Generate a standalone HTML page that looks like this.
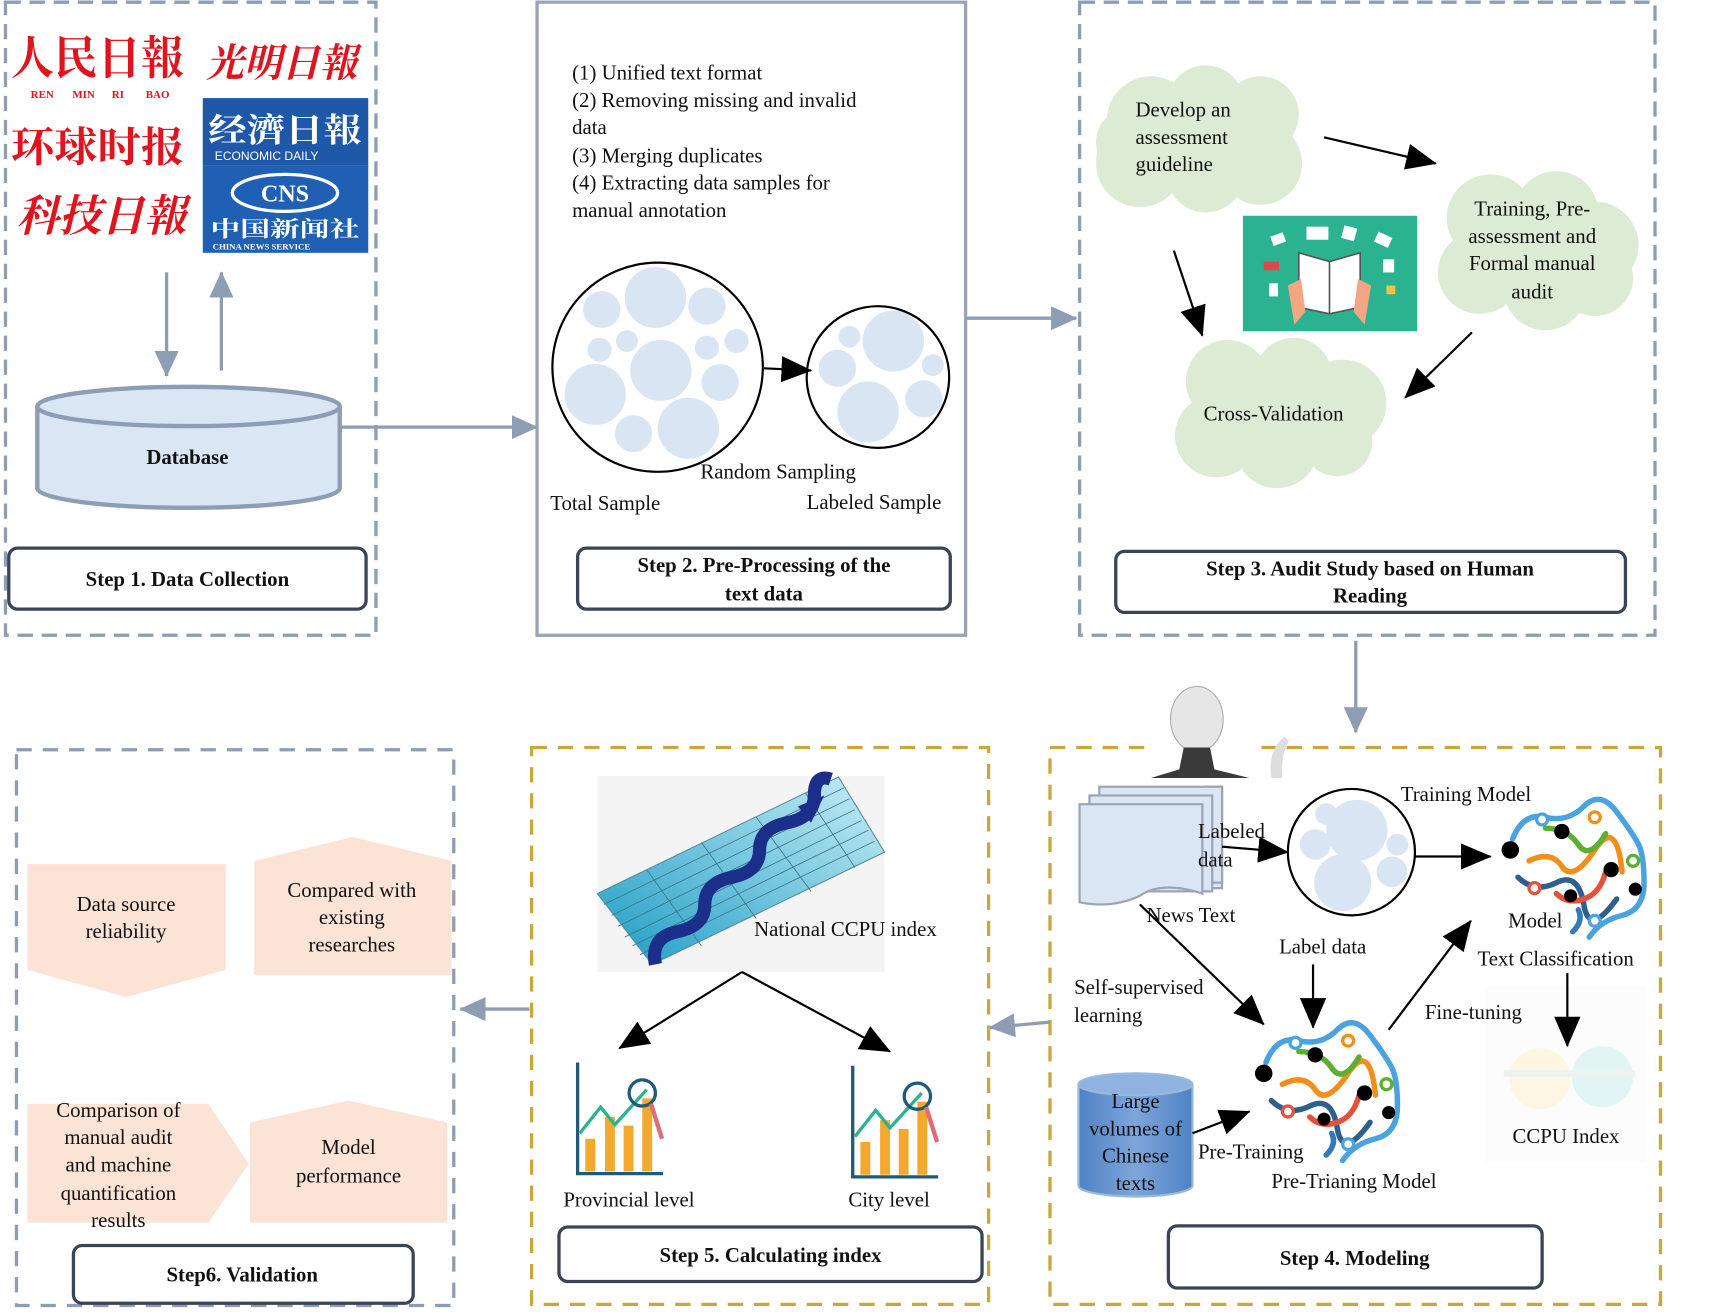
<!DOCTYPE html>
<html><head><meta charset="utf-8"><style>
html,body{margin:0;padding:0;background:#fff;}
svg{display:block;}
text{font-family:"Liberation Serif","Noto Serif CJK SC",serif;font-size:19px;fill:#111;}
.b{font-weight:bold;}
.cn{font-family:"Liberation Serif","Noto Serif CJK SC","Noto Sans CJK SC",serif;font-weight:bold;}
</style></head><body>
<svg width="1712" height="1312" viewBox="0 0 1562 1204" preserveAspectRatio="none" xmlns="http://www.w3.org/2000/svg">
<defs>
<marker id="abk" markerWidth="28" markerHeight="24" refX="27" refY="12" orient="auto" markerUnits="userSpaceOnUse"><path d="M0,0 L28,12 L0,24 z" fill="#000"/></marker>
<marker id="ag" markerWidth="24" markerHeight="22" refX="23" refY="11" orient="auto" markerUnits="userSpaceOnUse"><path d="M0,0 L24,11 L0,22 z" fill="#8d9db3"/></marker>
<linearGradient id="cyl" x1="0" x2="1"><stop offset="0" stop-color="#4f82c4"/><stop offset="0.5" stop-color="#7ea6da"/><stop offset="1" stop-color="#4f82c4"/></linearGradient>
<linearGradient id="grid" x1="0" y1="1" x2="1" y2="0"><stop offset="0" stop-color="#1d9cc4"/><stop offset="1" stop-color="#c8eef7"/></linearGradient>
</defs>

<!-- STEP 1 -->
<rect x="5" y="2" width="338" height="581" fill="none" stroke="#8d9db3" stroke-width="3" stroke-dasharray="14,8"/>
<text x="10" y="68" class="cn" style="font-size:42px;fill:#e0141e" textLength="158" lengthAdjust="spacingAndGlyphs">人民日報</text>
<text x="28" y="90" class="b" style="font-size:10px;fill:#e0141e">REN</text>
<text x="66" y="90" class="b" style="font-size:10px;fill:#e0141e">MIN</text>
<text x="102" y="90" class="b" style="font-size:10px;fill:#e0141e">RI</text>
<text x="133" y="90" class="b" style="font-size:10px;fill:#e0141e">BAO</text>
<text x="188" y="70" class="cn" style="font-size:36px;fill:#e0141e;font-style:italic" textLength="138" lengthAdjust="spacingAndGlyphs">光明日報</text>
<text x="10" y="148" class="cn" style="font-size:38px;fill:#e0141e" textLength="158" lengthAdjust="spacingAndGlyphs">环球时报</text>
<text x="15" y="212" class="cn" style="font-size:40px;fill:#e0141e;font-style:italic" textLength="155" lengthAdjust="spacingAndGlyphs">科技日報</text>
<rect x="185" y="90" width="151" height="62" fill="#1f58a8"/>
<text x="190" y="130" class="cn" style="font-size:30px;fill:#fff" textLength="140" lengthAdjust="spacingAndGlyphs">经濟日報</text>
<text x="196" y="147" style="font-family:'Liberation Sans',sans-serif;font-size:11px;fill:#fff">ECONOMIC DAILY</text>
<rect x="185" y="152" width="151" height="80" fill="#1f60b5"/>
<ellipse cx="260" cy="177" rx="48" ry="17" fill="none" stroke="#fff" stroke-width="3"/>
<text x="260" y="185" text-anchor="middle" class="b" style="font-size:22px;fill:#fff">CNS</text>
<text x="192" y="217" class="cn" style="font-size:20px;fill:#fff" textLength="136" lengthAdjust="spacingAndGlyphs">中国新闻社</text>
<text x="194" y="229" class="b" style="font-size:8px;fill:#fff">CHINA NEWS SERVICE</text>
<line x1="152" y1="250" x2="152" y2="345" stroke="#8d9db3" stroke-width="3" marker-end="url(#ag)"/>
<line x1="202" y1="340" x2="202" y2="250" stroke="#8d9db3" stroke-width="3" marker-end="url(#ag)"/>
<path d="M34,373 L34,448 A138,18 0 0 0 310,448 L310,373" fill="#dbe6f4" stroke="#8d9db3" stroke-width="4"/>
<ellipse cx="172" cy="373" rx="138" ry="18" fill="#dbe6f4" stroke="#8d9db3" stroke-width="4"/>
<text x="171" y="426" text-anchor="middle" class="b">Database</text>
<line x1="310" y1="392" x2="490" y2="392" stroke="#8d9db3" stroke-width="3" marker-end="url(#ag)"/>
<rect x="8" y="503" width="326" height="56" rx="8" fill="#fff" stroke="#3a4458" stroke-width="3"/>
<text x="171" y="538" text-anchor="middle" class="b">Step 1. Data Collection</text>

<!-- STEP 2 -->
<rect x="490" y="2" width="391" height="581" fill="none" stroke="#9aa4b4" stroke-width="3"/>
<text x="522" y="73">(1) Unified text format</text>
<text x="522" y="98">(2) Removing missing and invalid</text>
<text x="522" y="123">data</text>
<text x="522" y="149">(3) Merging duplicates</text>
<text x="522" y="174">(4) Extracting data samples for</text>
<text x="522" y="199">manual annotation</text>
<g fill="#dae5f3">
<circle cx="598" cy="273" r="28"/><circle cx="645" cy="281" r="17"/><circle cx="549" cy="284" r="17"/><circle cx="572" cy="313" r="10"/><circle cx="547" cy="321" r="11"/><circle cx="603" cy="340" r="28"/><circle cx="645" cy="319" r="11"/><circle cx="672" cy="313" r="11"/><circle cx="657" cy="351" r="17"/><circle cx="543" cy="362" r="28"/><circle cx="628" cy="393" r="28"/><circle cx="578" cy="398" r="17"/>
<circle cx="815" cy="313" r="28"/><circle cx="775" cy="309" r="10"/><circle cx="764" cy="338" r="17"/><circle cx="851" cy="335" r="10"/><circle cx="843" cy="366" r="17"/><circle cx="792" cy="378" r="28"/>
</g>
<circle cx="600" cy="337" r="96" fill="none" stroke="#000" stroke-width="2"/>
<circle cx="801" cy="346" r="65" fill="none" stroke="#000" stroke-width="2"/>
<line x1="697" y1="338" x2="740" y2="340" stroke="#000" stroke-width="2" marker-end="url(#abk)"/>
<text x="639" y="439">Random Sampling</text>
<text x="502" y="468">Total Sample</text>
<text x="736" y="467">Labeled Sample</text>
<rect x="527" y="503" width="340" height="56" rx="8" fill="#fff" stroke="#3a4458" stroke-width="3"/>
<text x="697" y="525" text-anchor="middle" class="b">Step 2. Pre-Processing of the</text>
<text x="697" y="551" text-anchor="middle" class="b">text data</text>
<line x1="881" y1="292" x2="982" y2="292" stroke="#8d9db3" stroke-width="3" marker-end="url(#ag)"/>

<!-- STEP 3 -->
<rect x="985" y="2" width="525" height="581" fill="none" stroke="#8d9db3" stroke-width="3" stroke-dasharray="14,8"/>
<g fill="#dcebd3">
<circle cx="1050" cy="110" r="40"/><circle cx="1100" cy="95" r="35"/><circle cx="1150" cy="105" r="35"/><circle cx="1040" cy="150" r="40"/><circle cx="1100" cy="160" r="35"/><circle cx="1150" cy="150" r="38"/><circle cx="1090" cy="125" r="50"/><circle cx="1030" cy="130" r="30"/>
<circle cx="1360" cy="200" r="40"/><circle cx="1420" cy="195" r="38"/><circle cx="1455" cy="225" r="40"/><circle cx="1350" cy="250" r="38"/><circle cx="1410" cy="265" r="38"/><circle cx="1455" cy="255" r="35"/><circle cx="1400" cy="230" r="55"/>
<circle cx="1120" cy="350" r="38"/><circle cx="1180" cy="345" r="35"/><circle cx="1225" cy="370" r="40"/><circle cx="1110" cy="400" r="38"/><circle cx="1165" cy="410" r="38"/><circle cx="1220" cy="405" r="32"/><circle cx="1165" cy="380" r="55"/>
</g>
<text x="1036" y="107">Develop an</text>
<text x="1036" y="132">assessment</text>
<text x="1036" y="157">guideline</text>
<text x="1398" y="198" text-anchor="middle">Training, Pre-</text>
<text x="1398" y="223" text-anchor="middle">assessment and</text>
<text x="1398" y="248" text-anchor="middle">Formal manual</text>
<text x="1398" y="274" text-anchor="middle">audit</text>
<text x="1162" y="386" text-anchor="middle">Cross-Validation</text>
<rect x="1134" y="198" width="159" height="106" fill="#2bb291"/>
<path d="M1185,232 L1213,240 L1241,232 L1241,282 L1213,288 L1185,282 z" fill="#fff" stroke="#555" stroke-width="1.5"/>
<line x1="1213" y1="240" x2="1213" y2="288" stroke="#555" stroke-width="1.5"/>
<path d="M1175,262 l12,-6 l4,30 l-10,12 z" fill="#f4a582"/><path d="M1251,262 l-12,-6 l-4,30 l10,12 z" fill="#f4a582"/>
<rect x="1160" y="215" width="12" height="9" fill="#fff" transform="rotate(-20 1166 219)"/><rect x="1192" y="208" width="20" height="12" fill="#fff"/><rect x="1225" y="208" width="12" height="12" fill="#fff" transform="rotate(15 1231 214)"/><rect x="1255" y="215" width="14" height="10" fill="#fff" transform="rotate(25 1262 220)"/><rect x="1153" y="240" width="14" height="8" fill="#d94b4b"/><rect x="1262" y="238" width="10" height="12" fill="#fff"/><rect x="1158" y="260" width="8" height="12" fill="#fff"/><rect x="1265" y="262" width="8" height="8" fill="#f5c242"/>
<line x1="1208" y1="126" x2="1310" y2="150" stroke="#000" stroke-width="2" marker-end="url(#abk)"/>
<line x1="1343" y1="305" x2="1282" y2="365" stroke="#000" stroke-width="2" marker-end="url(#abk)"/>
<line x1="1071" y1="230" x2="1097" y2="308" stroke="#000" stroke-width="2" marker-end="url(#abk)"/>
<rect x="1018" y="506" width="465" height="56" rx="8" fill="#fff" stroke="#3a4458" stroke-width="3"/>
<text x="1250" y="528" text-anchor="middle" class="b">Step 3. Audit Study based on Human</text>
<text x="1250" y="553" text-anchor="middle" class="b">Reading</text>
<line x1="1237" y1="588" x2="1237" y2="672" stroke="#8d9db3" stroke-width="3" marker-end="url(#ag)"/>

<!-- STEP 4 -->
<rect x="958" y="686" width="557" height="511" fill="none" stroke="#c9a73a" stroke-width="3" stroke-dasharray="14,10"/>
<rect x="1046" y="684" width="105" height="32" fill="#fff"/>
<ellipse cx="1092" cy="660" rx="24" ry="30" fill="#e6e6e6" stroke="#aaa"/>
<path d="M1080,686 L1104,686 L1108,706 L1140,714 L1050,714 L1076,706 z" fill="#3a3a3a"/>
<path d="M1160,714 q-4,-25 12,-38 l4,4 q-8,13 -6,34 z" fill="#ddd"/>
<rect x="1355" y="905" width="147" height="162" fill="#fcfcfc"/>
<ellipse cx="1405" cy="990" rx="28" ry="28" fill="#fcf6e2"/><ellipse cx="1462" cy="988" rx="28" ry="28" fill="#e2f5f5"/>
<rect x="1372" y="982" width="120" height="6" fill="#eaf3ee"/>
<path d="M1100,722 L1115,722 L1115,815 L1100,815 z" fill="#dbe6f4" stroke="#9aa4b4" stroke-width="2"/>
<rect x="1003" y="722" width="112" height="88" fill="#dbe6f4" stroke="#9aa4b4" stroke-width="2"/>
<rect x="994" y="730" width="112" height="88" fill="#dbe6f4" stroke="#9aa4b4" stroke-width="2"/>
<path d="M985,738 L1097,738 L1097,820 Q1060,808 1040,822 Q1015,834 985,828 z" fill="#dbe6f4" stroke="#9aa4b4" stroke-width="2"/>
<text x="1093" y="769">Labeled</text>
<text x="1093" y="795">data</text>
<line x1="1115" y1="777" x2="1175" y2="782" stroke="#000" stroke-width="2" marker-end="url(#abk)"/>
<g fill="#dae5f3"><circle cx="1238" cy="762" r="28"/><circle cx="1200" cy="775" r="14"/><circle cx="1210" cy="747" r="10"/><circle cx="1275" cy="775" r="10"/><circle cx="1270" cy="800" r="14"/><circle cx="1225" cy="810" r="26"/></g>
<ellipse cx="1233" cy="782" rx="58" ry="58" fill="none" stroke="#000" stroke-width="2"/>
<text x="1278" y="735">Training Model</text>
<line x1="1290" y1="786" x2="1360" y2="786" stroke="#000" stroke-width="2" marker-end="url(#abk)"/>
<g id="brain" fill="none" stroke-width="5" stroke-linecap="round">
<path d="M1380,770 q10,-25 30,-20 t35,-10 t30,5 t20,30 t5,35 t-20,30 t-30,20" stroke="#4aa3df"/>
<path d="M1395,790 q20,-10 30,5 t30,-15 t25,20" stroke="#f28e1c"/>
<path d="M1385,805 q15,15 35,5 t25,20 t30,-5" stroke="#2f5f8f"/>
<path d="M1410,760 q20,0 30,15 t25,-10" stroke="#5cb030"/>
<path d="M1420,820 q10,10 25,5 t20,-25" stroke="#e4513a"/>
<path d="M1440,835 q5,10 -5,20" stroke="#3479b8"/>
<circle cx="1378" cy="780" r="8" fill="#000" stroke="none"/><circle cx="1425" cy="763" r="7" fill="#000" stroke="none"/><circle cx="1470" cy="798" r="7" fill="#000" stroke="none"/><circle cx="1492" cy="816" r="6" fill="#000" stroke="none"/><circle cx="1433" cy="822" r="6" fill="#000" stroke="none"/>
<circle cx="1407" cy="752" r="5" fill="#fff" stroke="#4aa3df" stroke-width="3"/><circle cx="1490" cy="790" r="5" fill="#fff" stroke="#5cb030" stroke-width="3"/><circle cx="1455" cy="750" r="5" fill="#fff" stroke="#f28e1c" stroke-width="3"/><circle cx="1400" cy="815" r="5" fill="#fff" stroke="#e4513a" stroke-width="3"/><circle cx="1455" cy="845" r="5" fill="#fff" stroke="#4aa3df" stroke-width="3"/>
</g>
<text x="1376" y="851">Model</text>
<text x="1348" y="886">Text Classification</text>
<text x="1046" y="846">News Text</text>
<line x1="1040" y1="830" x2="1153" y2="940" stroke="#000" stroke-width="2" marker-end="url(#abk)"/>
<text x="1167" y="875">Label data</text>
<line x1="1198" y1="885" x2="1198" y2="943" stroke="#000" stroke-width="2" marker-end="url(#abk)"/>
<text x="980" y="912">Self-supervised</text>
<text x="980" y="938">learning</text>
<text x="1300" y="935">Fine-tuning</text>
<line x1="1267" y1="945" x2="1342" y2="845" stroke="#000" stroke-width="2" marker-end="url(#abk)"/>
<line x1="1430" y1="893" x2="1430" y2="960" stroke="#000" stroke-width="2" marker-end="url(#abk)"/>
<text x="1380" y="1049">CCPU Index</text>
<path d="M984,995 L984,1088 A52,10 0 0 0 1088,1088 L1088,995" fill="url(#cyl)" stroke="#9ab8dd" stroke-width="2"/>
<ellipse cx="1036" cy="995" rx="52" ry="10" fill="#8fb2e0" stroke="#9ab8dd" stroke-width="2"/>
<text x="1036" y="1017" text-anchor="middle">Large</text>
<text x="1036" y="1042" text-anchor="middle">volumes of</text>
<text x="1036" y="1067" text-anchor="middle">Chinese</text>
<text x="1036" y="1092" text-anchor="middle">texts</text>
<line x1="1088" y1="1040" x2="1140" y2="1020" stroke="#000" stroke-width="2" marker-end="url(#abk)"/>
<use href="#brain" transform="translate(-225,205)"/>
<text x="1093" y="1063">Pre-Training</text>
<text x="1160" y="1090">Pre-Trianing Model</text>
<rect x="1066" y="1125" width="341" height="57" rx="8" fill="#fff" stroke="#3a4458" stroke-width="3"/>
<text x="1236" y="1161" text-anchor="middle" class="b">Step 4. Modeling</text>
<line x1="958" y1="938" x2="903" y2="943" stroke="#8d9db3" stroke-width="3" marker-end="url(#ag)"/>

<!-- STEP 5 -->
<rect x="485" y="686" width="417" height="511" fill="none" stroke="#c9a73a" stroke-width="3" stroke-dasharray="14,10"/>
<rect x="545" y="712" width="262" height="180" fill="#f4f4f4"/>
<path d="M545,820 L765,713 L807,782 L595,885 z" fill="url(#grid)" stroke="#5a8a9a" stroke-width="1"/>
<g stroke="#3f7788" stroke-width="0.8">
<line x1="551" y1="830" x2="770" y2="723"/><line x1="558" y1="840" x2="775" y2="733"/><line x1="564" y1="850" x2="780" y2="743"/><line x1="570" y1="860" x2="786" y2="753"/><line x1="577" y1="868" x2="792" y2="762"/><line x1="584" y1="876" x2="798" y2="772"/>
<line x1="590" y1="798" x2="640" y2="868"/><line x1="640" y1="773" x2="690" y2="843"/><line x1="690" y1="750" x2="740" y2="818"/><line x1="735" y1="728" x2="780" y2="796"/>
</g>
<path d="M598,885 q-5,-25 20,-30 t25,-25 t25,-25 t25,-25 t25,-25 t25,-25 t15,-15" fill="none" stroke="#1b2f8a" stroke-width="12"/>
<path d="M728,740 L752,730 L740,755 z" fill="#1b2f8a"/>
<text x="688" y="859">National CCPU index</text>
<line x1="677" y1="892" x2="565" y2="962" stroke="#000" stroke-width="2" marker-end="url(#abk)"/>
<line x1="677" y1="892" x2="812" y2="965" stroke="#000" stroke-width="2" marker-end="url(#abk)"/>
<g id="chart">
<path d="M527,975 L527,1077 L605,1077" fill="none" stroke="#1e5a7a" stroke-width="3"/>
<rect x="534" y="1045" width="9" height="30" fill="#f2a92c"/><rect x="552" y="1025" width="9" height="50" fill="#f2a92c"/><rect x="569" y="1033" width="9" height="42" fill="#f2a92c"/><rect x="586" y="1008" width="9" height="67" fill="#f2a92c"/>
<path d="M529,1040 L548,1016 L561,1032 L590,1000" fill="none" stroke="#2bb291" stroke-width="3"/>
<circle cx="586" cy="1003" r="12" fill="none" stroke="#1e5a7a" stroke-width="3"/>
<line x1="594" y1="1013" x2="604" y2="1045" stroke="#e06c78" stroke-width="4"/>
</g>
<use href="#chart" transform="translate(251,3)"/>
<text x="514" y="1107">Provincial level</text>
<text x="774" y="1107">City level</text>
<rect x="510" y="1126" width="386" height="50" rx="8" fill="#fff" stroke="#3a4458" stroke-width="3"/>
<text x="703" y="1158" text-anchor="middle" class="b">Step 5. Calculating  index</text>
<line x1="483" y1="926" x2="420" y2="926" stroke="#8d9db3" stroke-width="3" marker-end="url(#ag)"/>

<!-- STEP 6 -->
<rect x="15" y="688" width="399" height="510" fill="none" stroke="#8d9db3" stroke-width="3" stroke-dasharray="14,10"/>
<path d="M25,793 L206,793 L206,890 L115,915 L25,890 z" fill="#fbe3d6"/>
<path d="M232,790 L322,768 L412,790 L412,895 L232,895 z" fill="#fbe3d6"/>
<path d="M25,1013 L190,1013 L227,1068 L190,1122 L25,1122 z" fill="#fbe3d6"/>
<path d="M228,1030 L318,1010 L408,1030 L408,1122 L228,1122 z" fill="#fbe3d6"/>
<text x="115" y="836" text-anchor="middle">Data source</text>
<text x="115" y="861" text-anchor="middle">reliability</text>
<text x="321" y="823" text-anchor="middle">Compared with</text>
<text x="321" y="848" text-anchor="middle">existing</text>
<text x="321" y="873" text-anchor="middle">researches</text>
<text x="108" y="1025" text-anchor="middle">Comparison of</text>
<text x="108" y="1050" text-anchor="middle">manual audit</text>
<text x="108" y="1075" text-anchor="middle">and machine</text>
<text x="108" y="1101" text-anchor="middle">quantification</text>
<text x="108" y="1126" text-anchor="middle">results</text>
<text x="318" y="1059" text-anchor="middle">Model</text>
<text x="318" y="1085" text-anchor="middle">performance</text>
<rect x="67" y="1143" width="310" height="53" rx="8" fill="#fff" stroke="#3a4458" stroke-width="3"/>
<text x="221" y="1176" text-anchor="middle" class="b">Step6. Validation</text>
</svg>
</body></html>
